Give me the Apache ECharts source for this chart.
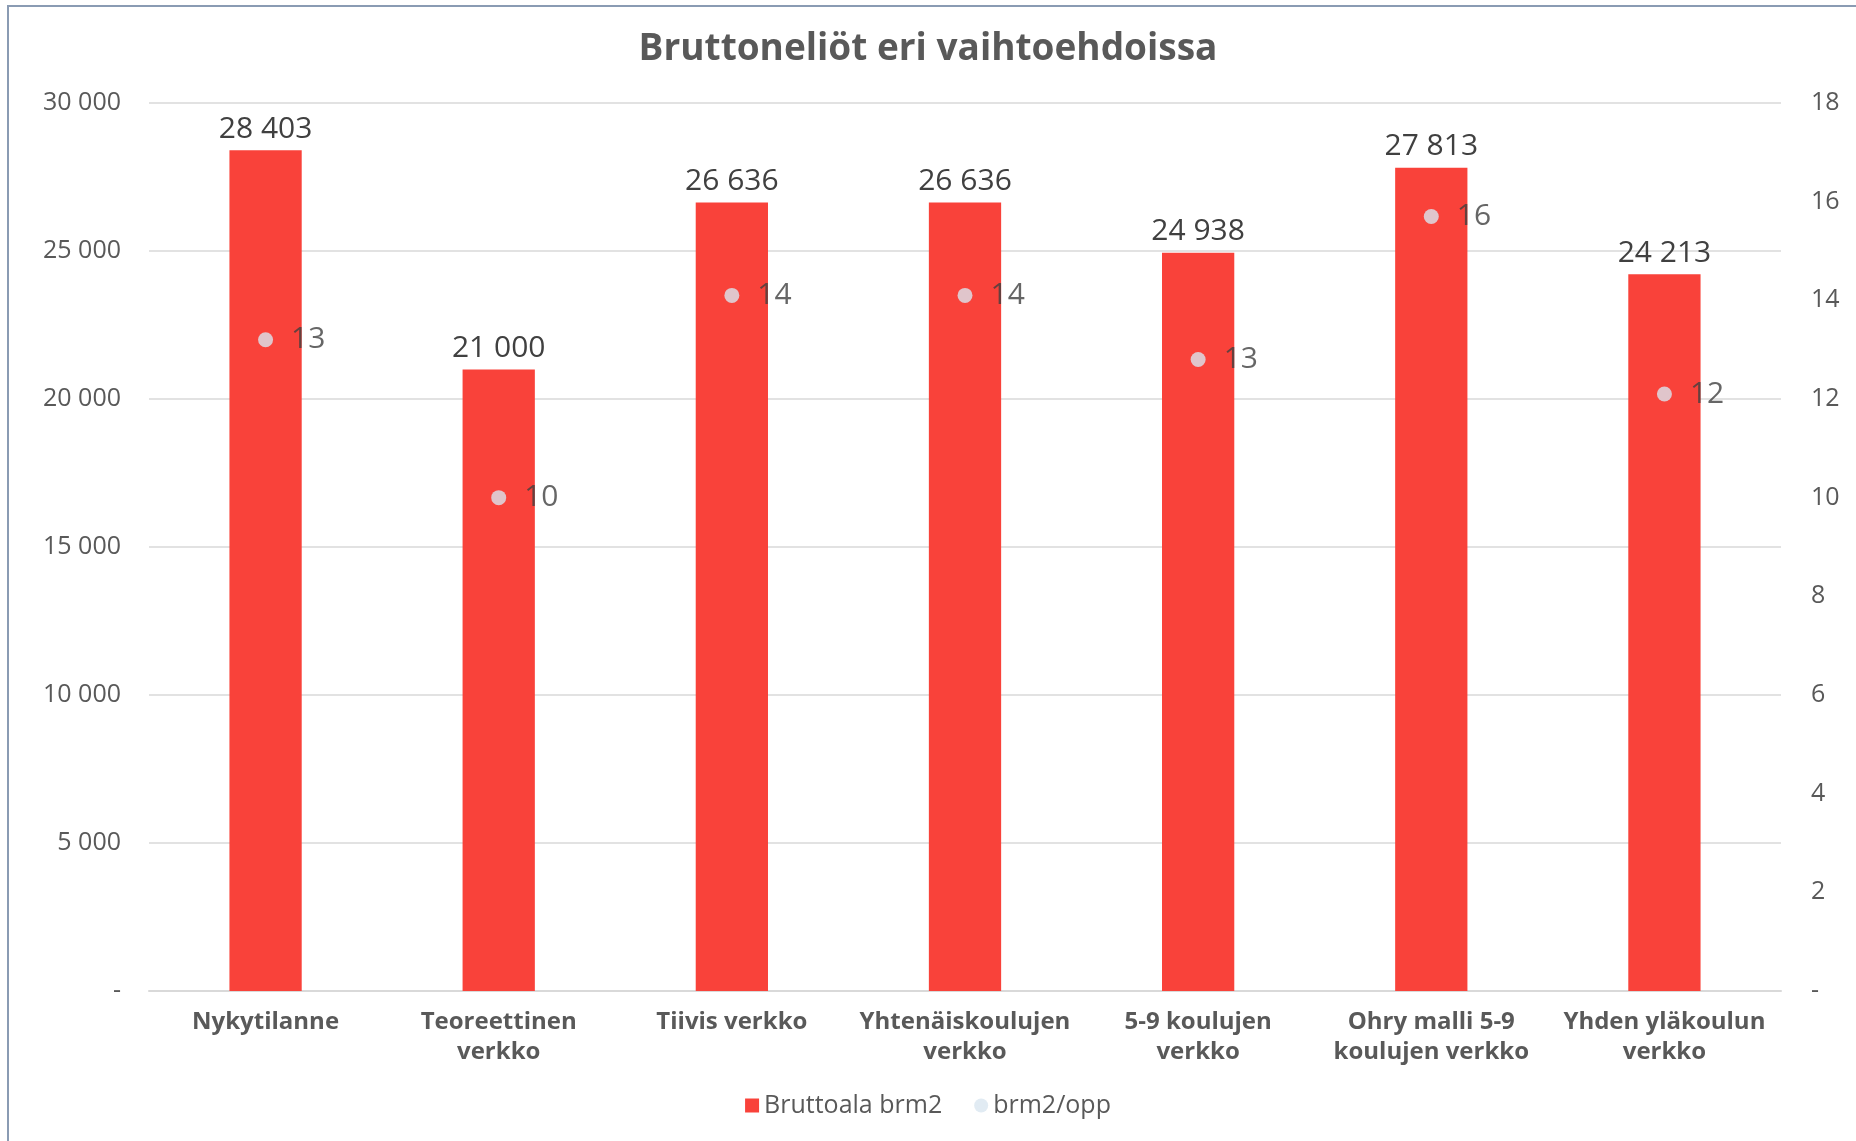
<!DOCTYPE html>
<html>
<head>
<meta charset="utf-8">
<script src="https://cdn.jsdelivr.net/npm/echarts@6/dist/echarts.min.js"></script>
<style>
  html, body { margin: 0; padding: 0; background: #fff; }
  #frame { position: absolute; left: 7px; top: 5px; width: 1849px; height: 1136px;
           border-left: 2px solid #8a9bb3; border-top: 2px solid #8a9bb3; }
  #main { position: absolute; left: 0; top: 0; width: 1856px; height: 1141px; }
</style>
</head>
<body>
<div id="frame"></div>
<div id="main"></div>
<script>
// kategoriat ja arvot
const categories = [
  'Nykytilanne',
  'Teoreettinen\nverkko',
  'Tiivis verkko',
  'Yhtenäiskoulujen\nverkko',
  '5-9 koulujen\nverkko',
  'Ohry malli 5-9\nkoulujen verkko',
  'Yhden yläkoulun\nverkko'
];
const bruttoala = [28403, 21000, 26636, 26636, 24938, 27813, 24213];
const brm2PerOpp = [13.2, 10.0, 14.1, 14.1, 12.8, 15.7, 12.1];

const font = '"Open Sans", "Noto Sans", sans-serif';

// 30 000 -> "30 000", 0 -> "-"
const fmt = (v) => v === 0 ? '-' : String(Math.round(v)).replace(/\B(?=(\d{3})+(?!\d))/g, ' ');

const chart = echarts.init(document.getElementById('main'));
chart.setOption({
  animation: false,
  title: {
    text: 'Bruttoneliöt eri vaihtoehdoissa',
    left: 'center',
    top: 26,
    textStyle: { fontFamily: font, fontSize: 37, fontWeight: 'bold', color: '#595959' }
  },
  legend: {
    bottom: 18,
    left: 'center',
    itemGap: 32,
    itemWidth: 14,
    itemHeight: 14,
    textStyle: { fontFamily: font, fontSize: 25, color: '#595959' },
    data: [
      { name: 'Bruttoala brm2', icon: 'rect' },
      { name: 'brm2/opp', icon: 'circle' }
    ]
  },
  grid: { left: 149, right: 75, top: 103, bottom: 150 },
  xAxis: {
    type: 'category',
    data: categories,
    axisTick: { show: false },
    axisLine: { lineStyle: { color: '#d9d9d9', width: 2 } },
    axisLabel: {
      fontFamily: font, fontSize: 24, fontWeight: 'bold', color: '#595959',
      lineHeight: 30, margin: 16, interval: 0
    }
  },
  yAxis: [
    {
      type: 'value', min: 0, max: 30000, interval: 5000,
      axisLine: { show: false }, axisTick: { show: false },
      splitLine: { lineStyle: { color: '#d9d9d9', width: 1.5 } },
      axisLabel: { fontFamily: font, fontSize: 25, color: '#595959', margin: 28, formatter: fmt }
    },
    {
      type: 'value', min: 0, max: 18, interval: 2,
      axisLine: { show: false }, axisTick: { show: false },
      splitLine: { show: false },
      axisLabel: { fontFamily: font, fontSize: 25, color: '#595959', margin: 30, formatter: fmt }
    }
  ],
  series: [
    {
      name: 'Bruttoala brm2',
      type: 'bar',
      data: bruttoala,
      barWidth: '31%',
      itemStyle: { color: '#f9423a' },
      label: {
        show: true, position: 'top', distance: 6,
        fontFamily: font, fontSize: 30, color: '#404040',
        formatter: (p) => fmt(p.value)
      }
    },
    {
      name: 'brm2/opp',
      type: 'scatter',
      yAxisIndex: 1,
      data: brm2PerOpp,
      symbolSize: 15,
      itemStyle: { color: '#d9e6f0' },
      label: {
        show: true, position: 'right', distance: 18,
        fontFamily: font, fontSize: 30, color: '#404040',
        formatter: (p) => Math.round(p.value)
      }
    }
  ]
});
</script>
</body>
</html>
